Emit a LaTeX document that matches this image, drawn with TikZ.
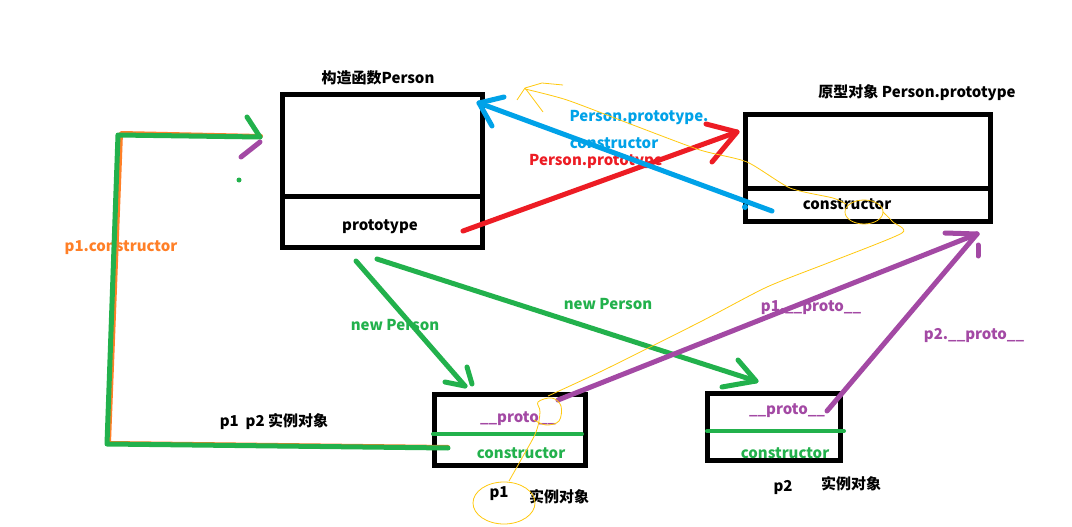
\documentclass[tikz,border=0pt]{standalone}
\usepackage{fontspec}
\setmainfont{Noto Sans CJK SC}
\definecolor{cgreen}{RGB}{34,177,76}
\definecolor{cred}{RGB}{237,28,36}
\definecolor{cblue}{RGB}{0,162,232}
\definecolor{cpurple}{RGB}{163,73,164}
\definecolor{corange}{RGB}{255,127,39}
\definecolor{cyellow}{RGB}{255,201,14}
\begin{document}
\begin{tikzpicture}[x=1pt,y=-1pt,
  txt/.style={font=\bfseries\fontsize{15}{17}\selectfont, inner sep=0pt},
  ltxt/.style={txt, yshift=-2pt},
  boxframe/.style={draw, line width=5pt, inner sep=0pt},
  stroke/.style={line width=5pt, line cap=round, line join=round},
  thinstroke/.style={line width=4pt, line cap=round},
  yel/.style={draw=cyellow, line width=0.8pt}]
\useasboundingbox[fill=white] (0,0) rectangle (1072,527);

% ---------- boxes ----------
\node[boxframe, minimum width=200pt, minimum height=153pt] (P) at (382.5,171) {};
\draw[line width=5pt] (P.west |- 0,196.5) -- (P.east |- 0,196.5);
\node[boxframe, minimum width=245pt, minimum height=107pt] (PP) at (868,168) {};
\draw[line width=5pt] (PP.west |- 0,188.5) -- (PP.east |- 0,188.5);
\node[boxframe, minimum width=151pt, minimum height=71pt] (B1) at (509.5,429.5) {};
\node[boxframe, minimum width=133pt, minimum height=67pt] (B2) at (773.5,426.5) {};

% green lines inside instance boxes
\coordinate (g1a) at (433,434); \coordinate (g1b) at (582,434);
\coordinate (g2a) at (707,431); \coordinate (g2b) at (844,431);
\draw[cgreen, thinstroke] (g1a) -- (g1b);
\draw[cgreen, thinstroke] (g2a) -- (g2b);

% ---------- texts ----------
\node[txt] (tP) at (378,78) {构造函数Person};
\node[ltxt] (tproto) at (380,225) {prototype};
\node[txt] (tPP) at (917,93) {原型对象 Person.prototype};
\node[ltxt] (tctor) at (847,202) {constructor};
\node[ltxt, text=cpurple] (t1proto) at (518,417) {\_\_proto\_\_};
\node[ltxt, text=cgreen] (t1ctor) at (521,451) {constructor};
\node[ltxt, text=cpurple] (t2proto) at (787,409) {\_\_proto\_\_};
\node[ltxt, text=cgreen] (t2ctor) at (785,451) {constructor};
\node[txt] (tp1p2) at (274,422) {p1\ \ p2 实例对象};
\node[ltxt] (tp1) at (499,492) {p1};
\node[txt] (tp1s) at (559,497) {实例对象};
\node[ltxt] (tp2) at (783,485) {p2};
\node[txt] (tp2s) at (851,484) {实例对象};
\node[ltxt, text=corange] (tp1c) at (121,246) {p1.constructor};
\node[ltxt, text=cblue] (tppc1) at (639,116) {Person.prototype.};
\node[ltxt, text=cblue] (tppc2) at (614,141) {constructor};
\node[ltxt, text=cgreen] (tnew1) at (395,323) {new Person};
\node[ltxt, text=cgreen] (tnew2) at (608,302) {new Person};
\node[ltxt, text=cpurple] (tp1pr) at (811,306) {p1.\_\_proto\_\_};
\node[ltxt, text=cpurple] (tp2pr) at (974,334) {p2.\_\_proto\_\_};

% ---------- red arrow: Person.prototype ----------
\coordinate (rS) at (463,231); \coordinate (rT) at (737,132);
\coordinate (rH1) at (706,124); \coordinate (rH2) at (712,162);
\draw[cred, stroke] (rS) -- (rT);
\draw[cred, stroke] (rH1) -- (rT) -- (rH2);
\node[ltxt, text=cred] (tpp) at (596,160) {Person.prototype};

% ---------- blue arrow: constructor ----------
\coordinate (bS) at (772,211); \coordinate (bT) at (479,103);
\coordinate (bH1) at (504,97); \coordinate (bH2) at (492,126);
\draw[cblue, stroke] (bS) -- (bT);
\draw[cblue, stroke] (bH1) -- (bT) -- (bH2);
\fill[cblue] (745,207) circle (3pt);

% ---------- p1.constructor path ----------
\coordinate (cS) at (448,448); \coordinate (cBL) at (107,444);
\coordinate (cTL) at (118,135); \coordinate (cT) at (260,137);
\coordinate (cH) at (247,117);
\draw[corange, line width=4pt, line cap=round, line join=round]
  ([shift={(0,-1)}]cS) -- ([shift={(2,-1)}]cBL) -- ([shift={(3,-2)}]cTL) -- ([shift={(1,-1)}]cT);
\draw[cgreen, stroke] (cS) -- (cBL) -- (cTL) -- (cT);
\draw[cgreen, stroke] (cH) -- (cT);
\draw[cpurple, stroke] (260,142) -- (241,157);
\fill[cgreen] (239,180) circle (2.5pt);

% ---------- new Person arrows ----------
\coordinate (n1S) at (356,261); \coordinate (n1T) at (465,386);
\draw[cgreen, stroke] (n1S) -- (n1T);
\draw[cgreen, stroke] (445,382) -- (n1T);
\draw[cgreen, stroke] (467,367) -- (472,384);
\coordinate (n2S) at (377,259); \coordinate (n2T) at (756,381);
\draw[cgreen, stroke] (n2S) -- (n2T);
\draw[cgreen, stroke] (738,360) -- (n2T) -- (722,387);

% ---------- __proto__ arrows ----------
\coordinate (pT) at (977,234);
\coordinate (p1S) at (558,400); \coordinate (p2S) at (827,411);
\draw[cpurple, stroke] (p1S) -- (pT);
\draw[cpurple, stroke] (p2S) -- (pT);
\draw[cpurple, stroke] (945,233) -- (pT);
\draw[cpurple, stroke] (978,245) -- (978,256);

% ---------- yellow freehand trace ----------
\draw[yel] (504,503) ellipse (31pt and 21pt);
\draw[yel] plot[smooth, tension=0.6] coordinates {(509,481) (522,458) (536,432) (540,412) (538,402) (552,398) (561,406) (559,421) (546,425) (534,420)};
\draw[yel] plot[smooth, tension=0.4] coordinates {(548,396) (604,370) (700,322) (767,287) (833,261) (902,233) (893,222) (883,212)};
\draw[yel] (864,212) ellipse (19pt and 12pt);
\draw[yel] plot[smooth, tension=0.4] coordinates {(846,204) (833,198) (790,188) (747,162) (700,150) (633,125) (567,100) (525,89)};
\draw[yel] (517,100) -- (525,88) -- (542,83) -- (563,85);
\draw[yel] (525,88) -- (543,112);
\end{tikzpicture}
\end{document}
